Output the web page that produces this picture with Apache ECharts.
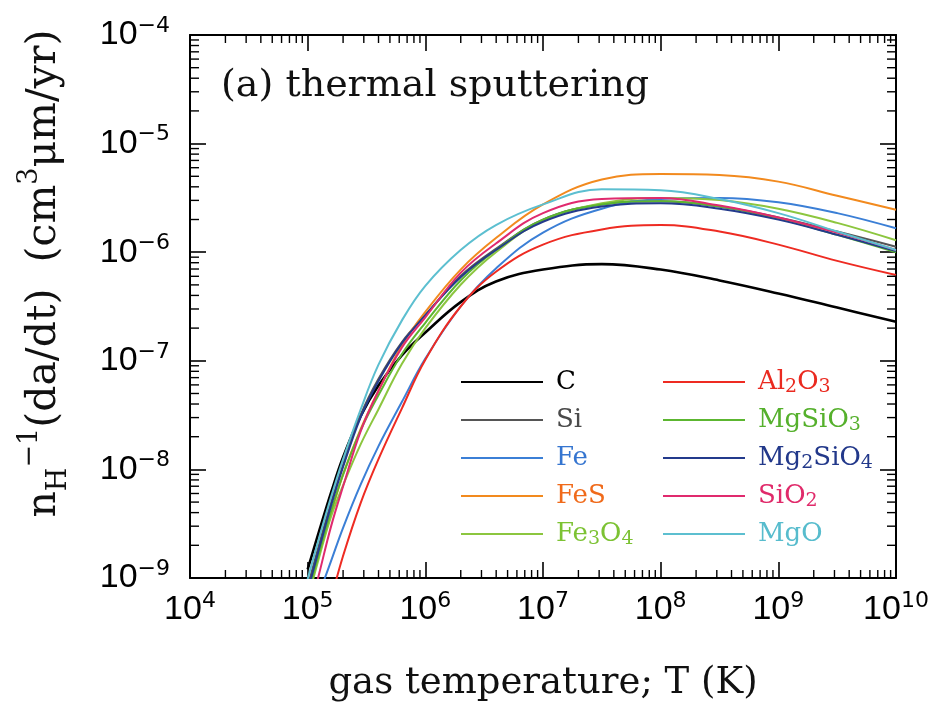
<!DOCTYPE html>
<html><head><meta charset="utf-8">
<script src="https://cdn.jsdelivr.net/npm/echarts@6/dist/echarts.min.js"></script>
<style>html,body{margin:0;padding:0;background:#fff}#c{width:938px;height:702px}</style>
</head><body><div id="c"></div>
<script>
// log10 of gas temperature (K) at which curves were read
const logT = [5.0, 5.1, 5.2, 5.3, 5.45, 5.6, 5.8, 6.0, 6.3, 6.6, 7.0, 7.5, 8.0, 8.5, 9.0, 9.5, 10.0];
// log10 of n_H^-1 (da/dt) [cm^3 um / yr]
const C       = [-8.92, -8.56, -8.21, -7.89, -7.51, -7.23, -6.95, -6.74, -6.46, -6.27, -6.16, -6.11, -6.16, -6.26, -6.38, -6.51, -6.64];
const Si      = [-9.08, -8.68, -8.30, -7.96, -7.50, -7.17, -6.83, -6.58, -6.22, -5.97, -5.70, -5.56, -5.53, -5.58, -5.68, -5.81, -5.95];
const Fe      = [-9.44, -9.14, -8.84, -8.54, -8.14, -7.79, -7.38, -6.98, -6.50, -6.15, -5.82, -5.60, -5.51, -5.50, -5.54, -5.64, -5.78];
const FeS     = [-9.14, -8.76, -8.40, -8.05, -7.63, -7.28, -6.86, -6.55, -6.16, -5.87, -5.56, -5.33, -5.28, -5.29, -5.35, -5.48, -5.61];
const Fe3O4   = [-9.20, -8.80, -8.43, -8.15, -7.77, -7.45, -7.03, -6.70, -6.30, -6.00, -5.71, -5.55, -5.50, -5.52, -5.60, -5.73, -5.89];
const Al2O3   = [-10.0, -9.60, -9.19, -8.80, -8.31, -7.91, -7.44, -6.99, -6.50, -6.18, -5.93, -5.79, -5.75, -5.81, -5.93, -6.08, -6.21];
const MgSiO3  = [-9.15, -8.76, -8.38, -8.05, -7.64, -7.32, -6.94, -6.65, -6.26, -5.98, -5.70, -5.56, -5.53, -5.58, -5.69, -5.84, -6.00];
const Mg2SiO4 = [-9.12, -8.72, -8.33, -7.98, -7.52, -7.19, -6.84, -6.58, -6.23, -5.98, -5.72, -5.58, -5.55, -5.60, -5.70, -5.84, -5.99];
const SiO2    = [-9.38, -8.95, -8.52, -8.16, -7.65, -7.28, -6.88, -6.60, -6.19, -5.92, -5.64, -5.51, -5.50, -5.57, -5.68, -5.82, -5.98];
const MgO     = [-9.01, -8.62, -8.25, -7.91, -7.45, -7.04, -6.63, -6.31, -5.98, -5.75, -5.56, -5.42, -5.43, -5.51, -5.64, -5.81, -5.98];

const seriesNames = ['C', 'Si', 'Fe', 'FeS', 'Fe3O4', 'Al2O3', 'MgSiO3', 'Mg2SiO4', 'SiO2', 'MgO'];
const seriesValues = [C, Si, Fe, FeS, Fe3O4, Al2O3, MgSiO3, Mg2SiO4, SiO2, MgO];
const lineColors = ['#000000', '#555555', '#3b7fd6', '#f28a1e', '#8cc63f', '#ee2b22', '#5cb630', '#233a8c', '#e02a6e', '#5cbfd0'];
const textColors = ['#000000', '#4a4a4a', '#3575d0', '#f06a1a', '#7cc233', '#ea2a20', '#55b02c', '#22388a', '#e02a6a', '#57bccd'];
const legendLeftCol = ['C', 'Si', 'Fe', 'FeS', 'Fe3O4'];
const legendRightCol = ['Al2O3', 'MgSiO3', 'Mg2SiO4', 'SiO2', 'MgO'];

const xTickExps = [4, 5, 6, 7, 8, 9, 10];
const xTickLabels = ['4', '5', '6', '7', '8', '9', '10'];
const yTickExps = [-9, -8, -7, -6, -5, -4];
const yTickLabels = ['\u22129', '\u22128', '\u22127', '\u22126', '\u22125', '\u22124'];

const titleText = '(a) thermal sputtering';
const xName = 'gas temperature; T (K)';

const xMin = Math.pow(10, xTickExps[0]), xMax = Math.pow(10, xTickExps[xTickExps.length - 1]);
const yMin = Math.pow(10, yTickExps[0]), yMax = Math.pow(10, yTickExps[yTickExps.length - 1]);

// minor tick positions (k * 10^n)
const xMinor = [];
for (let i = 0; i < xTickExps.length - 1; i++) for (let k = 2; k <= 9; k++) xMinor.push([k * Math.pow(10, xTickExps[i]), yMin]);
const yMinor = [];
for (let i = 0; i < yTickExps.length - 1; i++) for (let k = 2; k <= 9; k++) yMinor.push([xMin, k * Math.pow(10, yTickExps[i])]);

const SERIF = 'DejaVu Serif';
const SANS = 'Liberation Sans';

function expLabel(value, exps, labels) {
  const e = Math.round(Math.log10(value));
  const i = exps.indexOf(e);
  if (i < 0) return '';
  return '{b|10}{s|' + labels[i] + '}';
}
const tickRich = {
  b: { fontFamily: SANS, fontSize: 34, lineHeight: 40, color: '#000' },
  s: { fontFamily: 'DejaVu Sans', fontSize: 22, lineHeight: 16, verticalAlign: 'top', color: '#000' }
};

function subFmt(name) {
  return name.replace(/(\D+)|(\d+)/g, function (m, a, d) { return a ? '{n|' + a + '}' : '{sub|' + d + '}'; });
}
const legendRich = {
  n: { fontFamily: SERIF, fontSize: 26, lineHeight: 30 },
  sub: { fontFamily: SERIF, fontSize: 19, lineHeight: 16, verticalAlign: 'bottom' }
};
function legendData(names) {
  return names.map(function (n) {
    const i = seriesNames.indexOf(n);
    return { name: n, textStyle: { color: textColors[i] } };
  });
}
function legendCfg(names, left) {
  return {
    orient: 'vertical', left: left, top: 367, padding: 0, itemGap: 8,
    itemWidth: 82, itemHeight: 30, selectedMode: false,
    itemStyle: { opacity: 0 },
    data: legendData(names),
    formatter: subFmt,
    textStyle: {
      fontFamily: SERIF, fontSize: 26, padding: [0, 0, 0, 8],
      backgroundColor: 'rgba(255,255,255,0)', rich: legendRich
    }
  };
}

function tickLine(x1, y1, x2, y2) {
  return { type: 'line', shape: { x1: x1, y1: y1, x2: x2, y2: y2 }, style: { stroke: '#000', lineWidth: 1.4 } };
}

const series = seriesNames.map(function (n, i) {
  return {
    name: n, type: 'line', showSymbol: false, symbol: 'none',
    smooth: 0.4,
    color: lineColors[i],
    lineStyle: { color: lineColors[i], width: n === 'C' ? 2.6 : 2 },
    data: logT.map(function (t, j) { return [Math.pow(10, t), Math.pow(10, seriesValues[i][j])]; }),
    z: 3
  };
});
series.push({
  type: 'custom', silent: true, clip: false, z: 5,
  data: xMinor,
  renderItem: function (params, api) {
    const v = api.value(0);
    const pb = api.coord([v, yMin]), pt = api.coord([v, yMax]);
    return { type: 'group', children: [tickLine(pb[0], pb[1], pb[0], pb[1] - 8), tickLine(pt[0], pt[1], pt[0], pt[1] + 8)] };
  }
});
series.push({
  type: 'custom', silent: true, clip: false, z: 5,
  data: yMinor,
  renderItem: function (params, api) {
    const v = api.value(1);
    const pl = api.coord([xMin, v]), pr = api.coord([xMax, v]);
    return { type: 'group', children: [tickLine(pl[0], pl[1], pl[0] + 9, pl[1]), tickLine(pr[0], pr[1], pr[0] - 9, pr[1])] };
  }
});

const axisLineStyle = { show: true, lineStyle: { color: '#000', width: 2 } };
const majorTick = { show: true, inside: true, length: 16, lineStyle: { color: '#000', width: 1.6 } };

const chart = echarts.init(document.getElementById('c'), null, { renderer: 'canvas' });
chart.setOption({
  backgroundColor: '#fff',
  animation: false,
  title: {
    text: titleText, left: 216, top: 62,
    textStyle: { fontFamily: SERIF, fontSize: 38, fontWeight: 'normal', color: '#111' }
  },
  legend: [legendCfg(legendLeftCol, 460), legendCfg(legendRightCol, 662)],
  grid: { left: 190, right: 42, top: 35, bottom: 124, containLabel: false, outerBoundsMode: 'none' },
  xAxis: [
    {
      type: 'log', logBase: 10, min: xMin, max: xMax, position: 'bottom',
      axisLine: axisLineStyle, axisTick: majorTick, splitLine: { show: false },
      axisLabel: { margin: 12, formatter: function (v) { return expLabel(v, xTickExps, xTickLabels); }, rich: tickRich },
      name: xName, nameLocation: 'middle', nameGap: 87,
      nameTextStyle: { fontFamily: SERIF, fontSize: 37, color: '#111' }
    },
    {
      type: 'log', logBase: 10, min: xMin, max: xMax, position: 'top',
      axisLine: axisLineStyle, axisTick: majorTick, splitLine: { show: false }, axisLabel: { show: false }
    }
  ],
  yAxis: [
    {
      type: 'log', logBase: 10, min: yMin, max: yMax, position: 'left',
      axisLine: axisLineStyle, axisTick: majorTick, splitLine: { show: false },
      axisLabel: { margin: 20, formatter: function (v) { return expLabel(v, yTickExps, yTickLabels); }, rich: tickRich },
      name: '{t|n}{sub|H}{sup|\u22121}{t|(da/dt)  (cm}{sup|3}{t|\u03bcm/yr)}',
      nameLocation: 'middle', nameGap: 118, nameRotate: 90,
      nameTextStyle: {
        fontFamily: SERIF, fontSize: 41, color: '#111', padding: [0, 0, 0, 66],
        rich: {
          t: { fontFamily: SERIF, fontSize: 41, lineHeight: 56, color: '#111' },
          sub: { fontFamily: SERIF, fontSize: 27, lineHeight: 24, verticalAlign: 'bottom', color: '#111' },
          sup: { fontFamily: SERIF, fontSize: 27, lineHeight: 24, verticalAlign: 'top', color: '#111' }
        }
      }
    },
    {
      type: 'log', logBase: 10, min: yMin, max: yMax, position: 'right',
      axisLine: axisLineStyle, axisTick: majorTick, splitLine: { show: false }, axisLabel: { show: false }
    }
  ],
  series: series
});
</script>
</body></html>
